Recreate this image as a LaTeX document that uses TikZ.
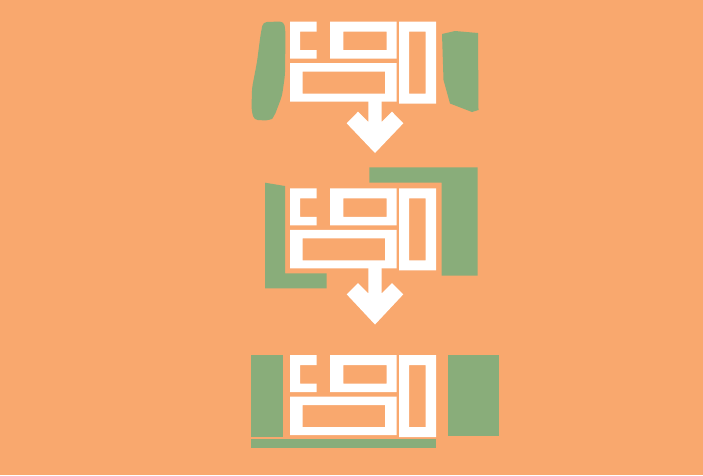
\documentclass[tikz,border=0pt]{standalone}
\definecolor{bgorange}{RGB}{249,168,110}
\definecolor{leafgreen}{RGB}{137,173,122}
\tikzset{
  wall/.style={fill=white,even odd rule},
  green/.style={fill=leafgreen},
  bigarrow/.style={fill=white},
}
\newcommand{\plan}[1]{%
  \begin{scope}[shift={(0,#1)}]
    % C-shaped box (open to the right)
    \fill[wall] (290,0) -- (316.7,0) -- (316.7,10) -- (300,10) -- (300,28.5) -- (316.7,28.5) -- (316.7,37) -- (290,37) -- cycle;
    % top middle room
    \fill[wall] (330,0) rectangle (396.7,37) (343.3,10) rectangle (386.7,28.5);
    % bottom wide room
    \fill[wall] (290,41.5) rectangle (396.7,80) (302.5,50) rectangle (385,72);
    % right tall room
    \fill[wall] (399,0) rectangle (436,82) (409,10) rectangle (425.5,72);
  \end{scope}}
\begin{document}
\begin{tikzpicture}[x=1pt,y=-1pt]
\useasboundingbox (0,0) rectangle (703,475);
\fill[bgorange] (0,0) rectangle (703,475);

% ---- stage 1 ----
\fill[green,rounded corners=4pt] (263,22) -- (284,21.5) -- (285.5,32) -- (285,75) -- (282,96) -- (274,117) -- (270,120.5) -- (254,120) -- (251.5,110) -- (252,88) -- (257,62) -- (260.5,35) -- cycle;
\fill[green] (442,34) -- (455,31) -- (478,33) -- (478.5,110) -- (472,112) -- (450,103.5) -- (443.5,80) -- cycle;
\plan{21.7}
\fill[bigarrow] (368.3,100) -- (368.3,122) -- (358,111.7) -- (346.7,123.3) -- (375,153) -- (403.3,123.3) -- (392,111.7) -- (381.7,122) -- (381.7,100) -- cycle;

% ---- stage 2 ----
\fill[green] (265,182.7) -- (285,186) -- (285,273.3) -- (326.7,273.3) -- (326.7,288.3) -- (265,288.3) -- cycle;
\fill[green] (369.3,167.3) -- (477.7,167.3) -- (477.7,275.7) -- (441.7,275.7) -- (441.7,182.7) -- (369.3,182.7) -- cycle;
\plan{188.3}
\fill[bigarrow] (368.3,268) -- (368.3,293.3) -- (358,283) -- (346.7,294.3) -- (375,324.5) -- (403.3,294.3) -- (392,283) -- (381.7,293.3) -- (381.7,268) -- cycle;

% ---- stage 3 ----
\fill[green] (251,355) rectangle (282.7,436.7);
\fill[green] (447.7,355) rectangle (499,436);
\fill[green] (251,439.3) rectangle (435.7,447.7);
\plan{355}
\end{tikzpicture}
\end{document}
